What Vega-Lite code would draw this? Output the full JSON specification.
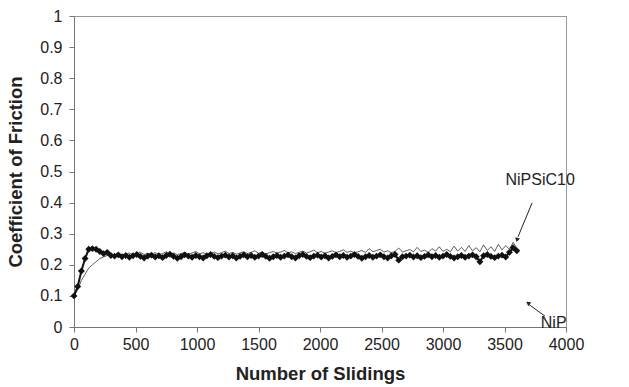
{
  "$schema": "https://vega.github.io/schema/vega-lite/v6.json",
  "width": 492,
  "height": 311,
  "autosize": {"type": "none"},
  "padding": {"left": 74, "top": 16, "right": 63, "bottom": 60},
  "background": "white",
  "config": {
    "view": {"stroke": "#999", "strokeWidth": 1},
    "font": "Liberation Sans",
    "axis": {"grid": false, "labelOverlap": false, "labelFlush": false, "domainColor": "#777", "tickColor": "#777", "labelColor": "#222", "titleColor": "#222", "labelFontSize": 16, "labelFont": "Liberation Sans", "titleFont": "Liberation Sans", "titleFontSize": 18.5, "titleFontWeight": "bold"}
  },
  "datasets": {
    "nip": [
      {"x":0,"y":0.10},{"x":30,"y":0.13},{"x":60,"y":0.18},{"x":90,"y":0.22},{"x":120,"y":0.25},{"x":150,"y":0.252},{"x":180,"y":0.25},{"x":210,"y":0.243},{"x":240,"y":0.236},{"x":270,"y":0.24},{"x":300,"y":0.23},
      {"x":330,"y":0.228},{"x":360,"y":0.232},{"x":390,"y":0.226},{"x":420,"y":0.23},{"x":450,"y":0.224},{"x":480,"y":0.229},{"x":510,"y":0.233},{"x":540,"y":0.227},{"x":570,"y":0.222},{"x":600,"y":0.228},
      {"x":630,"y":0.231},{"x":660,"y":0.225},{"x":690,"y":0.229},{"x":720,"y":0.223},{"x":750,"y":0.23},{"x":780,"y":0.234},{"x":810,"y":0.227},{"x":840,"y":0.221},{"x":870,"y":0.226},{"x":900,"y":0.232},
      {"x":930,"y":0.228},{"x":960,"y":0.224},{"x":990,"y":0.23},{"x":1020,"y":0.226},{"x":1050,"y":0.222},{"x":1080,"y":0.229},{"x":1110,"y":0.233},{"x":1140,"y":0.227},{"x":1170,"y":0.223},{"x":1200,"y":0.228},
      {"x":1230,"y":0.231},{"x":1260,"y":0.225},{"x":1290,"y":0.229},{"x":1320,"y":0.222},{"x":1350,"y":0.227},{"x":1380,"y":0.232},{"x":1410,"y":0.226},{"x":1440,"y":0.23},{"x":1470,"y":0.224},{"x":1500,"y":0.228},
      {"x":1530,"y":0.233},{"x":1560,"y":0.227},{"x":1590,"y":0.221},{"x":1620,"y":0.226},{"x":1650,"y":0.23},{"x":1680,"y":0.224},{"x":1710,"y":0.228},{"x":1740,"y":0.232},{"x":1770,"y":0.226},{"x":1800,"y":0.222},
      {"x":1830,"y":0.229},{"x":1860,"y":0.233},{"x":1890,"y":0.227},{"x":1920,"y":0.223},{"x":1950,"y":0.228},{"x":1980,"y":0.231},{"x":2010,"y":0.225},{"x":2040,"y":0.229},{"x":2070,"y":0.222},{"x":2100,"y":0.227},
      {"x":2130,"y":0.232},{"x":2160,"y":0.226},{"x":2190,"y":0.23},{"x":2220,"y":0.224},{"x":2250,"y":0.228},{"x":2280,"y":0.233},{"x":2310,"y":0.227},{"x":2340,"y":0.221},{"x":2370,"y":0.226},{"x":2400,"y":0.23},
      {"x":2430,"y":0.224},{"x":2460,"y":0.228},{"x":2490,"y":0.232},{"x":2520,"y":0.226},{"x":2550,"y":0.222},{"x":2580,"y":0.229},{"x":2610,"y":0.233},{"x":2640,"y":0.215},{"x":2670,"y":0.226},{"x":2700,"y":0.228},
      {"x":2730,"y":0.231},{"x":2760,"y":0.225},{"x":2790,"y":0.229},{"x":2820,"y":0.223},{"x":2850,"y":0.227},{"x":2880,"y":0.232},{"x":2910,"y":0.226},{"x":2940,"y":0.23},{"x":2970,"y":0.224},{"x":3000,"y":0.228},
      {"x":3030,"y":0.233},{"x":3060,"y":0.227},{"x":3090,"y":0.222},{"x":3120,"y":0.226},{"x":3150,"y":0.23},{"x":3180,"y":0.224},{"x":3210,"y":0.228},{"x":3240,"y":0.232},{"x":3270,"y":0.226},{"x":3300,"y":0.21},
      {"x":3330,"y":0.229},{"x":3360,"y":0.233},{"x":3390,"y":0.227},{"x":3420,"y":0.223},{"x":3450,"y":0.228},{"x":3480,"y":0.231},{"x":3510,"y":0.225},{"x":3540,"y":0.24},{"x":3570,"y":0.255},{"x":3600,"y":0.245}
    ],
    "sic": [
      {"x":0,"y":0.10},{"x":30,"y":0.12},{"x":60,"y":0.15},{"x":90,"y":0.17},{"x":120,"y":0.19},{"x":150,"y":0.20},{"x":180,"y":0.21},{"x":210,"y":0.22},{"x":240,"y":0.225},{"x":270,"y":0.23},{"x":300,"y":0.23},
      {"x":330,"y":0.232},{"x":360,"y":0.236},{"x":390,"y":0.23},{"x":420,"y":0.234},{"x":450,"y":0.238},{"x":480,"y":0.232},{"x":510,"y":0.236},{"x":540,"y":0.24},{"x":570,"y":0.233},{"x":600,"y":0.237},
      {"x":630,"y":0.235},{"x":660,"y":0.239},{"x":690,"y":0.233},{"x":720,"y":0.236},{"x":750,"y":0.242},{"x":780,"y":0.234},{"x":810,"y":0.238},{"x":840,"y":0.232},{"x":870,"y":0.236},{"x":900,"y":0.24},
      {"x":930,"y":0.234},{"x":960,"y":0.238},{"x":990,"y":0.243},{"x":1020,"y":0.235},{"x":1050,"y":0.239},{"x":1080,"y":0.233},{"x":1110,"y":0.237},{"x":1140,"y":0.241},{"x":1170,"y":0.235},{"x":1200,"y":0.239},
      {"x":1230,"y":0.244},{"x":1260,"y":0.236},{"x":1290,"y":0.24},{"x":1320,"y":0.234},{"x":1350,"y":0.238},{"x":1380,"y":0.242},{"x":1410,"y":0.236},{"x":1440,"y":0.24},{"x":1470,"y":0.245},{"x":1500,"y":0.237},
      {"x":1530,"y":0.241},{"x":1560,"y":0.235},{"x":1590,"y":0.239},{"x":1620,"y":0.243},{"x":1650,"y":0.237},{"x":1680,"y":0.241},{"x":1710,"y":0.246},{"x":1740,"y":0.238},{"x":1770,"y":0.242},{"x":1800,"y":0.236},
      {"x":1830,"y":0.24},{"x":1860,"y":0.244},{"x":1890,"y":0.238},{"x":1920,"y":0.242},{"x":1950,"y":0.247},{"x":1980,"y":0.239},{"x":2010,"y":0.243},{"x":2040,"y":0.237},{"x":2070,"y":0.241},{"x":2100,"y":0.245},
      {"x":2130,"y":0.239},{"x":2160,"y":0.243},{"x":2190,"y":0.248},{"x":2220,"y":0.24},{"x":2250,"y":0.244},{"x":2280,"y":0.238},{"x":2310,"y":0.242},{"x":2340,"y":0.246},{"x":2370,"y":0.24},{"x":2400,"y":0.252},
      {"x":2430,"y":0.242},{"x":2460,"y":0.246},{"x":2490,"y":0.25},{"x":2520,"y":0.241},{"x":2550,"y":0.245},{"x":2580,"y":0.239},{"x":2610,"y":0.243},{"x":2640,"y":0.254},{"x":2670,"y":0.241},{"x":2700,"y":0.245},
      {"x":2730,"y":0.249},{"x":2760,"y":0.242},{"x":2790,"y":0.256},{"x":2820,"y":0.243},{"x":2850,"y":0.247},{"x":2880,"y":0.24},{"x":2910,"y":0.252},{"x":2940,"y":0.244},{"x":2970,"y":0.258},{"x":3000,"y":0.243},
      {"x":3030,"y":0.25},{"x":3060,"y":0.242},{"x":3090,"y":0.26},{"x":3120,"y":0.244},{"x":3150,"y":0.256},{"x":3180,"y":0.243},{"x":3210,"y":0.262},{"x":3240,"y":0.245},{"x":3270,"y":0.255},{"x":3300,"y":0.242},
      {"x":3330,"y":0.264},{"x":3360,"y":0.246},{"x":3390,"y":0.258},{"x":3420,"y":0.243},{"x":3450,"y":0.266},{"x":3480,"y":0.248},{"x":3510,"y":0.262},{"x":3540,"y":0.25},{"x":3570,"y":0.272},{"x":3600,"y":0.255}
    ],
    "labels": [
      {"label": "NiPSiC10", "x": 3790, "y": 0.473},
      {"label": "NiP", "x": 3900, "y": 0.013}
    ],
    "arrows": [
      {"x": 3724, "y": 0.399, "x2": 3610, "y2": 0.29, "tx": 3602, "ty": 0.28, "angle": 194},
      {"x": 3829, "y": 0.035, "x2": 3700, "y2": 0.072, "tx": 3691, "ty": 0.077, "angle": 305}
    ]
  },
  "layer": [
    {
      "data": {"name": "sic"},
      "mark": {"type": "line", "color": "#333", "strokeWidth": 0.8},
      "encoding": {
        "x": {"field": "x", "type": "quantitative", "scale": {"domain": [0, 4000]}, "axis": {"tickCount": 8, "format": "d", "title": "Number of Slidings", "tickSize": 5, "labelPadding": 4, "titlePadding": 12}},
        "y": {"field": "y", "type": "quantitative", "scale": {"domain": [0, 1]}, "axis": {"tickCount": 10, "format": ".1~f", "title": "Coefficient of Friction", "tickSize": 5, "labelPadding": 7, "titlePadding": 14}}
      }
    },
    {
      "data": {"name": "nip"},
      "mark": {"type": "line", "color": "#111", "strokeWidth": 2},
      "encoding": {
        "x": {"field": "x", "type": "quantitative"},
        "y": {"field": "y", "type": "quantitative"}
      }
    },
    {
      "data": {"name": "nip"},
      "mark": {"type": "point", "shape": "diamond", "filled": true, "color": "#111", "size": 48, "opacity": 1},
      "encoding": {
        "x": {"field": "x", "type": "quantitative"},
        "y": {"field": "y", "type": "quantitative"}
      }
    },
    {
      "data": {"name": "arrows"},
      "mark": {"type": "rule", "color": "#222", "strokeWidth": 1},
      "encoding": {
        "x": {"field": "x", "type": "quantitative"},
        "y": {"field": "y", "type": "quantitative"},
        "x2": {"field": "x2"},
        "y2": {"field": "y2"}
      }
    },
    {
      "data": {"name": "arrows"},
      "mark": {"type": "point", "shape": "triangle-up", "filled": true, "color": "#222", "size": 25, "opacity": 1},
      "encoding": {
        "x": {"field": "tx", "type": "quantitative"},
        "y": {"field": "ty", "type": "quantitative"},
        "angle": {"field": "angle", "type": "quantitative", "scale": null}
      }
    },
    {
      "data": {"name": "labels"},
      "mark": {"type": "text", "font": "Liberation Sans", "fontSize": 16, "color": "#222", "align": "center", "baseline": "middle"},
      "encoding": {
        "x": {"field": "x", "type": "quantitative"},
        "y": {"field": "y", "type": "quantitative"},
        "text": {"field": "label"}
      }
    }
  ]
}
